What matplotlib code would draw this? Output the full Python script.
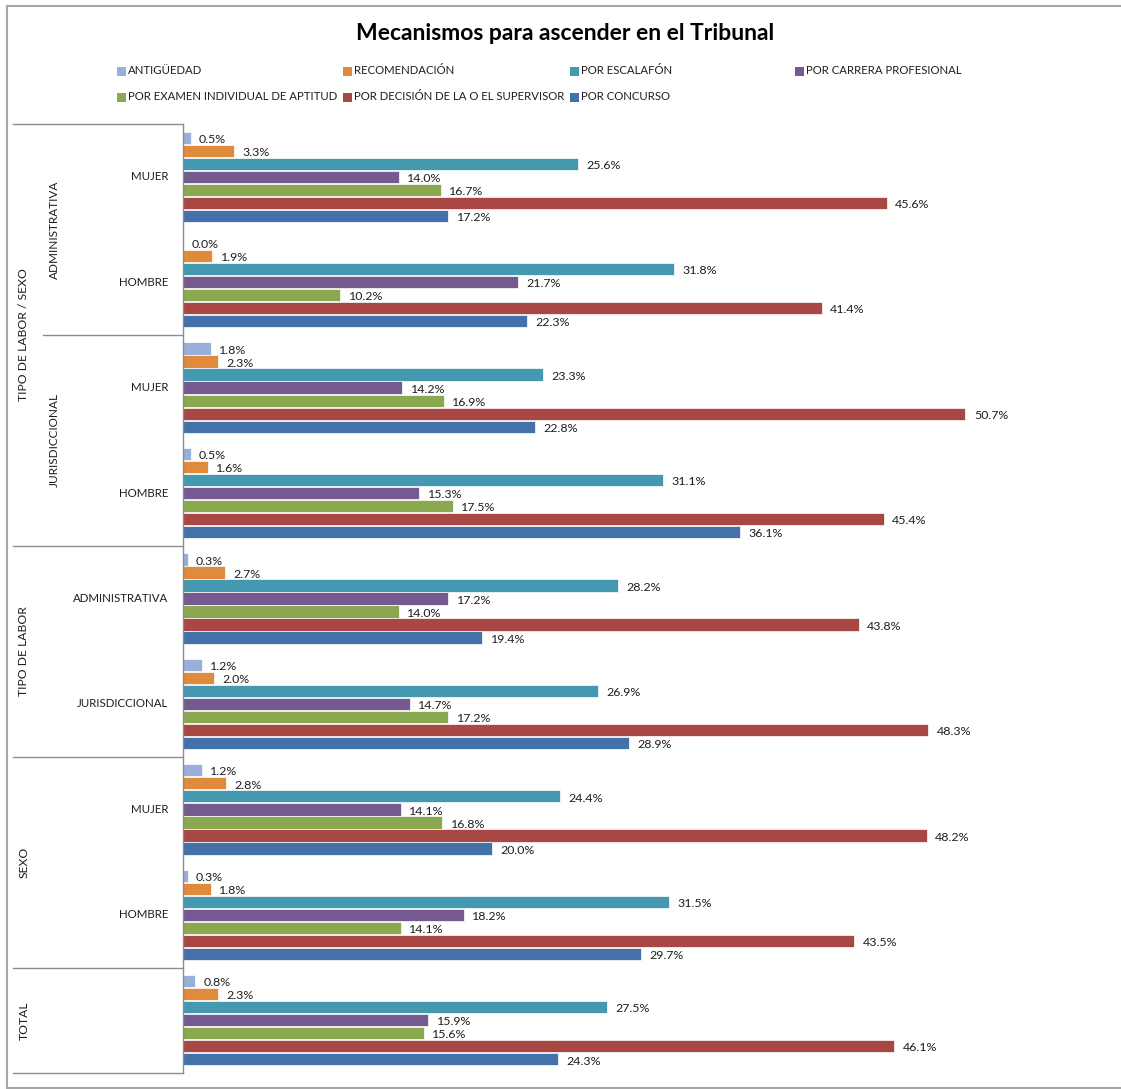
import matplotlib
matplotlib.use("Agg")
import matplotlib.pyplot as plt
from matplotlib.patches import Rectangle
from matplotlib.lines import Line2D
import matplotlib.transforms as mtransforms

plt.rcParams['font.family'] = ['Lato', 'DejaVu Sans']

# Series (bar order inside each group, top to bottom)
series = [
    "ANTIGÜEDAD",
    "RECOMENDACIÓN",
    "POR ESCALAFÓN",
    "POR CARRERA PROFESIONAL",
    "POR EXAMEN INDIVIDUAL DE APTITUD",
    "POR DECISIÓN DE LA O EL SUPERVISOR",
    "POR CONCURSO",
]
colors = ["#98B0D9", "#E08A3C", "#4499B0", "#745A90", "#8AA84F", "#A94745", "#4471A9"]

# Categories (top to bottom)
inner_labels = ["MUJER", "HOMBRE", "MUJER", "HOMBRE", "ADMINISTRATIVA", "JURISDICCIONAL",
                "MUJER", "HOMBRE", ""]
mid_groups = [("ADMINISTRATIVA", 0, 1), ("JURISDICCIONAL", 2, 3)]
outer_groups = [("TIPO DE LABOR / SEXO", 0, 3), ("TIPO DE LABOR", 4, 5),
                ("SEXO", 6, 7), ("TOTAL", 8, 8)]

antiguedad    = [0.5, 0.0, 1.8, 0.5, 0.3, 1.2, 1.2, 0.3, 0.8]
recomendacion = [3.3, 1.9, 2.3, 1.6, 2.7, 2.0, 2.8, 1.8, 2.3]
escalafon     = [25.6, 31.8, 23.3, 31.1, 28.2, 26.9, 24.4, 31.5, 27.5]
carrera       = [14.0, 21.7, 14.2, 15.3, 17.2, 14.7, 14.1, 18.2, 15.9]
examen        = [16.7, 10.2, 16.9, 17.5, 14.0, 17.2, 16.8, 14.1, 15.6]
decision      = [45.6, 41.4, 50.7, 45.4, 43.8, 48.3, 48.2, 43.5, 46.1]
concurso      = [17.2, 22.3, 22.8, 36.1, 19.4, 28.9, 20.0, 29.7, 24.3]
values = [antiguedad, recomendacion, escalafon, carrera, examen, decision, concurso]

W, H = 1121, 1089
fig = plt.figure(figsize=(W / 100, H / 100), dpi=100)

def fx(px):
    return px / W

def fy(py):
    return 1 - py / H

# Plot area
left_px, right_px, top_px, bot_px = 183, 1109, 124, 1073
ax = fig.add_axes([fx(left_px), fy(bot_px), fx(right_px - left_px), (bot_px - top_px) / H])
ax.set_xlim(0, 60)
ax.set_ylim(8.5, -0.5)
ax.axis('off')

n = len(inner_labels)
pitch = 0.1235
bar_h = 0.116
for j, (vals, col) in enumerate(zip(values, colors)):
    ys = [i + (j - 3) * pitch for i in range(n)]
    ax.barh(ys, vals, height=bar_h, color=col, edgecolor='white', linewidth=0.5)
    for y, v in zip(ys, vals):
        ax.annotate(f"{v:.1f}%", (v, y), xytext=(6, -1.2), textcoords='offset points',
                    va='center', ha='left', fontsize=8.9, color='#1E1E1E')

# Vertical axis line
ax.plot([0, 0], [-0.5, 8.5], color='#8C8C8C', lw=1, clip_on=False)

# Hierarchical category labels on the left
blend = mtransforms.blended_transform_factory(fig.transFigure, ax.transData)
line_col = '#8C8C8C'
for yb, xstart in [(-0.5, 13), (1.5, 43), (3.5, 13), (5.5, 13), (7.5, 13), (8.5, 13)]:
    ax.add_line(Line2D([fx(xstart), fx(left_px)], [yb, yb], transform=blend,
                       color=line_col, lw=1, clip_on=False))

for i, lab in enumerate(inner_labels):
    if lab:
        ax.text(fx(168), i, lab, transform=blend, ha='right', va='center',
                fontsize=8.3, color='#1E1E1E')
for lab, a, b in mid_groups:
    ax.text(fx(54), (a + b) / 2, lab, transform=blend, ha='center', va='center',
            rotation=90, fontsize=8.5, color='#1E1E1E')
for lab, a, b in outer_groups:
    ax.text(fx(24), (a + b) / 2, lab, transform=blend, ha='center', va='center',
            rotation=90, fontsize=8.7, color='#1E1E1E')

# Title
fig.text(fx(565), fy(33), "Mecanismos para ascender en el Tribunal", ha='center',
         va='center', fontsize=16.5, fontweight='bold', color='black')

# Legend laid out in two rows of four equal columns
col_x = [117, 343, 570, 795]
row_y = [71, 97]
for k, (name, col) in enumerate(zip(series, colors)):
    r, c = divmod(k, 4)
    x0, y0 = col_x[c], row_y[r]
    fig.add_artist(Rectangle((fx(x0), fy(y0 + 4.5)), fx(9), 9 / H, transform=fig.transFigure,
                             facecolor=col, edgecolor='none'))
    fig.text(fx(x0 + 11), fy(y0), name, ha='left', va='center', fontsize=8.2,
             color='#1E1E1E')

# Chart border
border = '#A6A6A6'
fig.add_artist(Line2D([fx(7), fx(7)], [fy(6), fy(1088)], transform=fig.transFigure,
                      color=border, lw=1.5))
fig.add_artist(Line2D([fx(7), 1], [fy(6), fy(6)], transform=fig.transFigure,
                      color=border, lw=1.5))
fig.add_artist(Line2D([fx(7), 1], [fy(1088), fy(1088)], transform=fig.transFigure,
                      color=border, lw=1.5))

fig.savefig("out.png", dpi=100, facecolor='white')
